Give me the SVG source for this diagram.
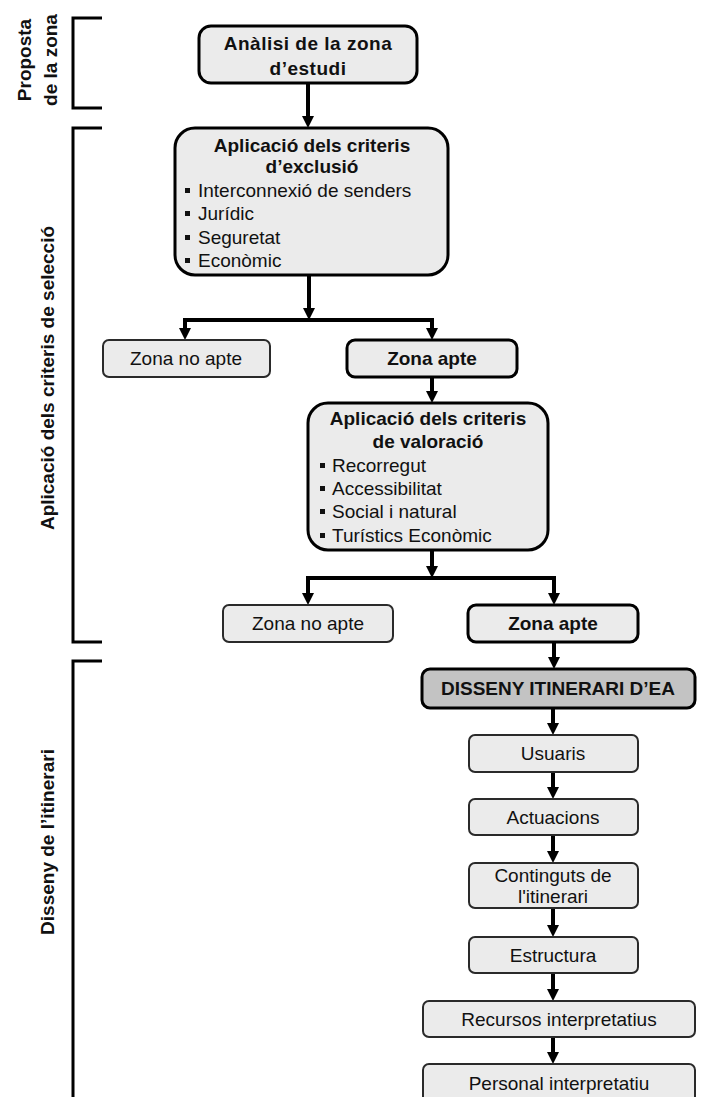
<svg xmlns="http://www.w3.org/2000/svg" width="702" height="1097" viewBox="0 0 702 1097">
<style>
.bg{fill:#ffffff}
.thick{fill:#ebebeb;stroke:#000;stroke-width:3}
.thin{fill:#ebebeb;stroke:#2a2a2a;stroke-width:2}
.dark{fill:#c3c3c3;stroke:#000;stroke-width:3}
.t{font-family:"Liberation Sans",Arial,sans-serif;font-size:19px;fill:#111}
.b{font-family:"Liberation Sans",Arial,sans-serif;font-size:19px;font-weight:bold;fill:#111}
.c{text-anchor:middle}
.con{fill:none;stroke:#000;stroke-width:4}
.br{fill:none;stroke:#000;stroke-width:3}
.bul{fill:#111}
</style>
<defs>
<marker id="ah" viewBox="0 0 12 12" refX="2" refY="6" markerWidth="12" markerHeight="12" markerUnits="userSpaceOnUse" orient="auto"><path d="M0,0 L12,6 L0,12 z" fill="#000"/></marker>
</defs>
<rect class="bg" x="0" y="0" width="702" height="1097"/>

<g id="phases">
<path class="br" d="M102 18 H73 V108 H102"/>
<path class="br" d="M102 128 H73 V642 H102"/>
<path class="br" d="M102 661 H73 V1097"/>
<text class="b c" transform="rotate(-90 31 60)" x="31" y="60">Proposta</text>
<text class="b c" transform="rotate(-90 57 60)" x="57" y="60">de la zona</text>
<text class="b c" transform="rotate(-90 54 378)" x="54" y="378">Aplicació dels criteris de selecció</text>
<text class="b c" transform="rotate(-90 54 842)" x="54" y="842">Disseny de l’itinerari</text>
</g>

<g id="connectors">
<path class="con" d="M308 83 V118" marker-end="url(#ah)"/>
<path class="con" d="M309 275 V310" marker-end="url(#ah)"/>
<path class="con" d="M185 320 H432"/>
<path class="con" d="M185 318 V330" marker-end="url(#ah)"/>
<path class="con" d="M432 318 V330" marker-end="url(#ah)"/>
<path class="con" d="M432 377 V393" marker-end="url(#ah)"/>
<path class="con" d="M432 550 V568" marker-end="url(#ah)"/>
<path class="con" d="M308 578 H554"/>
<path class="con" d="M308 576 V595" marker-end="url(#ah)"/>
<path class="con" d="M554 576 V595" marker-end="url(#ah)"/>
<path class="con" d="M554 642 V659" marker-end="url(#ah)"/>
<path class="con" d="M553 708 V725" marker-end="url(#ah)"/>
<path class="con" d="M553 772 V789" marker-end="url(#ah)"/>
<path class="con" d="M553 835 V853" marker-end="url(#ah)"/>
<path class="con" d="M553 908 V927" marker-end="url(#ah)"/>
<path class="con" d="M553 973 V991" marker-end="url(#ah)"/>
<path class="con" d="M553 1037 V1054" marker-end="url(#ah)"/>
</g>

<g id="analisi">
<rect class="thick" x="199" y="26" width="218" height="57" rx="12"/>
<text class="b c" x="308" y="50" letter-spacing="0.5">Anàlisi de la zona</text>
<text class="b c" x="308" y="75" letter-spacing="0.5">d’estudi</text>
</g>

<g id="exclusio">
<rect class="thick" x="175" y="128" width="273" height="147" rx="20"/>
<text class="b c" x="312" y="152">Aplicació dels criteris</text>
<text class="b c" x="312" y="173">d’exclusió</text>
<rect class="bul" x="185" y="188" width="5" height="5"/>
<text class="t" x="198" y="197">Interconnexió de senders</text>
<rect class="bul" x="185" y="211" width="5" height="5"/>
<text class="t" x="198" y="220">Jurídic</text>
<rect class="bul" x="185" y="235" width="5" height="5"/>
<text class="t" x="198" y="244">Seguretat</text>
<rect class="bul" x="185" y="258" width="5" height="5"/>
<text class="t" x="198" y="267">Econòmic</text>
</g>

<g id="noapte1">
<rect class="thin" x="103" y="340" width="167" height="37" rx="6"/>
<text class="t c" x="186" y="365">Zona no apte</text>
</g>

<g id="apte1">
<rect class="thick" x="347" y="340" width="170" height="37" rx="8"/>
<text class="b c" x="432" y="365">Zona apte</text>
</g>

<g id="valoracio">
<rect class="thick" x="308" y="403" width="240" height="147" rx="20"/>
<text class="b c" x="428" y="425">Aplicació dels criteris</text>
<text class="b c" x="428" y="448">de valoració</text>
<rect class="bul" x="320" y="463" width="5" height="5"/>
<text class="t" x="332" y="472">Recorregut</text>
<rect class="bul" x="320" y="486" width="5" height="5"/>
<text class="t" x="332" y="495">Accessibilitat</text>
<rect class="bul" x="320" y="509" width="5" height="5"/>
<text class="t" x="332" y="518">Social i natural</text>
<rect class="bul" x="320" y="533" width="5" height="5"/>
<text class="t" x="332" y="542">Turístics Econòmic</text>
</g>

<g id="noapte2">
<rect class="thin" x="223" y="605" width="170" height="37" rx="6"/>
<text class="t c" x="308" y="630">Zona no apte</text>
</g>

<g id="apte2">
<rect class="thick" x="468" y="605" width="170" height="37" rx="8"/>
<text class="b c" x="553" y="630">Zona apte</text>
</g>

<g id="disseny">
<rect class="dark" x="422" y="669" width="273" height="39" rx="8"/>
<text class="b c" x="558" y="695">DISSENY ITINERARI D’EA</text>
</g>

<g id="usuaris">
<rect class="thin" x="469" y="735" width="169" height="37" rx="6"/>
<text class="t c" x="553" y="760">Usuaris</text>
</g>

<g id="actuacions">
<rect class="thin" x="469" y="799" width="169" height="36" rx="6"/>
<text class="t c" x="553" y="824">Actuacions</text>
</g>

<g id="continguts">
<rect class="thin" x="469" y="863" width="169" height="45" rx="6"/>
<text class="t c" x="553" y="882">Continguts de</text>
<text class="t c" x="553" y="903">l'itinerari</text>
</g>

<g id="estructura">
<rect class="thin" x="469" y="937" width="169" height="36" rx="6"/>
<text class="t c" x="553" y="962">Estructura</text>
</g>

<g id="recursos">
<rect class="thin" x="423" y="1001" width="272" height="36" rx="6"/>
<text class="t c" x="559" y="1026">Recursos interpretatius</text>
</g>

<g id="personal">
<rect class="thin" x="423" y="1064" width="272" height="42" rx="6"/>
<text class="t c" x="559" y="1090">Personal interpretatiu</text>
</g>
</svg>
